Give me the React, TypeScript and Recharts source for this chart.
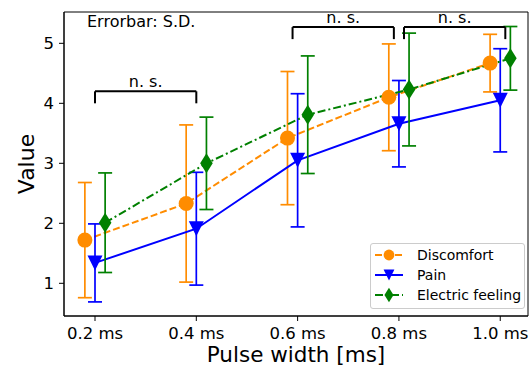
import React from 'react';
import {
  ComposedChart,
  Line,
  XAxis,
  YAxis,
  ErrorBar,
  ReferenceLine,
  ReferenceArea,
  Legend,
} from 'recharts';

// categories (pulse widths) and per-series means / standard deviations
const categories = ['0.2 ms', '0.4 ms', '0.6 ms', '0.8 ms', '1.0 ms'];
const discomfortMean = [1.72, 2.33, 3.42, 4.1, 4.67];
const discomfortSd = [0.96, 1.31, 1.11, 0.89, 0.48];
const painMean = [1.34, 1.91, 3.05, 3.66, 4.05];
const painSd = [0.65, 0.94, 1.11, 0.72, 0.86];
const electricMean = [2.01, 3.0, 3.81, 4.23, 4.75];
const electricSd = [0.83, 0.77, 0.98, 0.94, 0.53];
// small horizontal dodge so the error bars don't overlap
const dodge = [-0.1, 0, 0.1];

// "n. s." brackets: from / to on the category axis, height of the bar
const bracketFrom = [0, 1.95, 3.05];
const bracketTo = [1, 2.95, 4.05];
const bracketTop = [4.2, 5.27, 5.27];
const bracketDrop = 0.2;

const FONT = '"DejaVu Sans", Verdana, sans-serif';

type Shape = 'circle' | 'triangle' | 'diamond';

const series = [
  { name: 'Discomfort', mean: discomfortMean, sd: discomfortSd, color: '#ff8c00', dash: '7 3', shape: 'circle' as Shape },
  { name: 'Pain', mean: painMean, sd: painSd, color: '#0000ff', dash: undefined, shape: 'triangle' as Shape },
  { name: 'Electric feeling', mean: electricMean, sd: electricSd, color: '#008000', dash: '8 3 2 3', shape: 'diamond' as Shape },
];

const seriesData = series.map((s, k) =>
  s.mean.map((m, i) => ({ x: i + dodge[k], y: m, sd: s.sd[i] }))
);

const Marker = ({ cx, cy, shape, color, s = 1 }: { cx: number; cy: number; shape: Shape; color: string; s?: number }) => {
  if (shape === 'circle') return <circle cx={cx} cy={cy} r={7.5 * s} fill={color} />;
  if (shape === 'triangle') {
    const h = 7.5 * s;
    return <polygon points={`${cx - h},${cy - h} ${cx + h},${cy - h} ${cx},${cy + h}`} fill={color} />;
  }
  const hh = 10 * s;
  const hw = 6.3 * s;
  return <polygon points={`${cx},${cy - hh} ${cx + hw},${cy} ${cx},${cy + hh} ${cx - hw},${cy}`} fill={color} />;
};

const makeDot = (shape: Shape, color: string) => (props: any) => {
  const { cx, cy, index } = props;
  if (cx == null || cy == null) return <g key={index} />;
  return (
    <g key={index}>
      <Marker cx={cx} cy={cy} shape={shape} color={color} />
    </g>
  );
};

const renderLegend = () => (
  <div
    style={{
      boxSizing: 'border-box',
      width: 155,
      height: 66,
      border: '1px solid #cccccc',
      borderRadius: 3,
      background: 'rgba(255,255,255,0.8)',
      paddingTop: 1,
      fontFamily: FONT,
      fontSize: 14,
      color: '#000',
    }}
  >
    {series.map((s) => (
      <div key={s.name} style={{ display: 'flex', alignItems: 'center', height: 20 }}>
        <svg width={46} height={20} style={{ flex: 'none' }}>
          <line x1={4} y1={10} x2={32} y2={10} stroke={s.color} strokeWidth={2} strokeDasharray={s.dash} />
          <Marker cx={18} cy={10} shape={s.shape} color={s.color} s={0.72} />
        </svg>
        <span style={{ whiteSpace: 'nowrap' }}>{s.name}</span>
      </div>
    ))}
  </div>
);

const X_DOMAIN: [number, number] = [-0.306, 4.274];
const Y_DOMAIN: [number, number] = [0.455, 5.522];

export default function App() {
  return (
    <div style={{ position: 'absolute', left: 0, top: 0, width: 532, height: 367, background: '#fff', fontFamily: FONT }}>
      <ComposedChart
        width={532}
        height={367}
        margin={{ top: 12, right: 4, left: 0, bottom: 0 }}
        style={{ fontFamily: FONT }}
      >
        <XAxis
          type="number"
          dataKey="x"
          domain={X_DOMAIN}
          allowDataOverflow
          ticks={[0, 1, 2, 3, 4]}
          interval={0}
          tickFormatter={(v: number) => categories[Math.round(v)]}
          height={51}
          stroke="#000"
          tickSize={5}
          tickMargin={6}
          tick={{ fill: '#000', fontSize: 16.5 }}
          label={{ value: 'Pulse width [ms]', position: 'insideBottom', offset: 5, fontSize: 21.5, fill: '#000' }}
        />
        <YAxis
          type="number"
          domain={Y_DOMAIN}
          allowDataOverflow
          ticks={[1, 2, 3, 4, 5]}
          width={64}
          stroke="#000"
          tickSize={5}
          tickMargin={5}
          tick={{ fill: '#000', fontSize: 16.5 }}
          label={{
            value: 'Value',
            angle: -90,
            position: 'insideLeft',
            offset: 26,
            fontSize: 22,
            fill: '#000',
            style: { textAnchor: 'middle' },
          }}
        />
        <ReferenceArea
          x1={X_DOMAIN[0]}
          x2={X_DOMAIN[1]}
          y1={Y_DOMAIN[0]}
          y2={Y_DOMAIN[1]}
          fill="none"
          stroke="#000"
          strokeWidth={1}
        />
        {series.map((s, k) => (
          <Line
            key={s.name}
            data={seriesData[k]}
            dataKey="y"
            name={s.name}
            type="linear"
            stroke={s.color}
            strokeWidth={2}
            strokeDasharray={s.dash}
            dot={makeDot(s.shape, s.color)}
            activeDot={false}
            legendType="none"
            isAnimationActive={false}
          >
            <ErrorBar dataKey="sd" direction="y" width={7} stroke={s.color} strokeWidth={1.7} />
          </Line>
        ))}
        {bracketFrom.map((from, i) => (
          <ReferenceLine
            key={`top${i}`}
            segment={[
              { x: from, y: bracketTop[i] },
              { x: bracketTo[i], y: bracketTop[i] },
            ]}
            stroke="#000"
            strokeWidth={2}
            label={{ value: 'n. s.', position: 'top', offset: 4, fontSize: 16, fill: '#000' }}
          />
        ))}
        {bracketFrom.map((from, i) => (
          <ReferenceLine
            key={`l${i}`}
            segment={[
              { x: from, y: bracketTop[i] },
              { x: from, y: bracketTop[i] - bracketDrop },
            ]}
            stroke="#000"
            strokeWidth={2}
          />
        ))}
        {bracketTo.map((to, i) => (
          <ReferenceLine
            key={`r${i}`}
            segment={[
              { x: to, y: bracketTop[i] },
              { x: to, y: bracketTop[i] - bracketDrop },
            ]}
            stroke="#000"
            strokeWidth={2}
          />
        ))}
        <Legend
          layout="horizontal"
          verticalAlign="middle"
          align="center"
          content={renderLegend}
          wrapperStyle={{ position: 'absolute', left: 370, top: 243, width: 155, height: 66 }}
        />
      </ComposedChart>
      <div
        style={{
          position: 'absolute',
          left: 87,
          top: 13.5,
          fontSize: 16,
          lineHeight: '16px',
          color: '#000',
          whiteSpace: 'nowrap',
        }}
      >
        Errorbar: S.D.
      </div>
    </div>
  );
}
